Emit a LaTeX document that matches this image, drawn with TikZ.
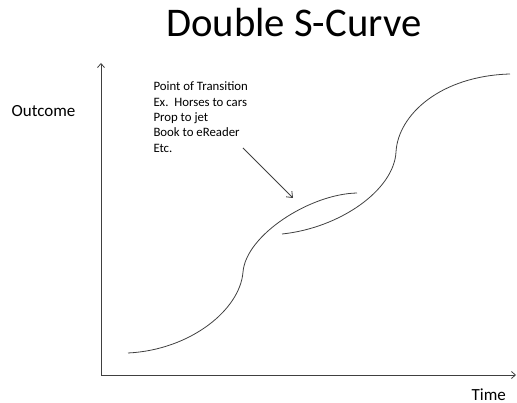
\documentclass[tikz,border=0pt]{standalone}
\usepackage{fontspec}
\setmainfont{Carlito}
\usetikzlibrary{arrows.meta}
\begin{document}
\begin{tikzpicture}[x=1pt,y=-1pt,
  axis/.style={draw=black!75,line width=0.8pt,-{Straight Barb[length=4pt,width=7pt]}},
  curve/.style={draw=black!75,line width=0.8pt},
  pointer/.style={draw=black!75,line width=0.8pt,-{Straight Barb[length=5pt,width=8pt]}},
  lbl/.style={inner sep=0pt,text=black}]
\useasboundingbox (0,0) rectangle (517,403);
% title
\node[lbl,anchor=base,font=\fontsize{40.7}{48}\selectfont] (title) at (293.9,36.7) {Double S-Curve};
% axes
\coordinate (O) at (101,375);
\coordinate (ytop) at (101,63);
\coordinate (xend) at (516,375);
\draw[axis] (O) -- (ytop);
\draw[axis] (O) -- (xend);
\node[lbl,anchor=base west,font=\fontsize{17}{20}\selectfont] (outcome) at (11.5,116.7) {Outcome};
\node[lbl,anchor=base west,font=\fontsize{17}{20}\selectfont] (time) at (471.5,400) {Time};
% curves
\draw[curve] (128,353) .. controls (190,350) and (240,310) .. (243,272)
             .. controls (246,235) and (310,194) .. (357,193);
\draw[curve] (282,234) .. controls (340,228) and (394,190) .. (396,152)
             .. controls (398,115) and (440,76) .. (510,74);
% annotation
\node[lbl,anchor=north west,align=left,font=\fontsize{12.8}{15.4}\selectfont] (note) at (153.3,81.7)
  {Point of Transition\\Ex.\ \ Horses to cars\\Prop to jet\\Book to eReader\\Etc.};
\coordinate (ptail) at (243,148);
\coordinate (phead) at (293,198);
\draw[pointer] (ptail) -- (phead);
\end{tikzpicture}
\end{document}
